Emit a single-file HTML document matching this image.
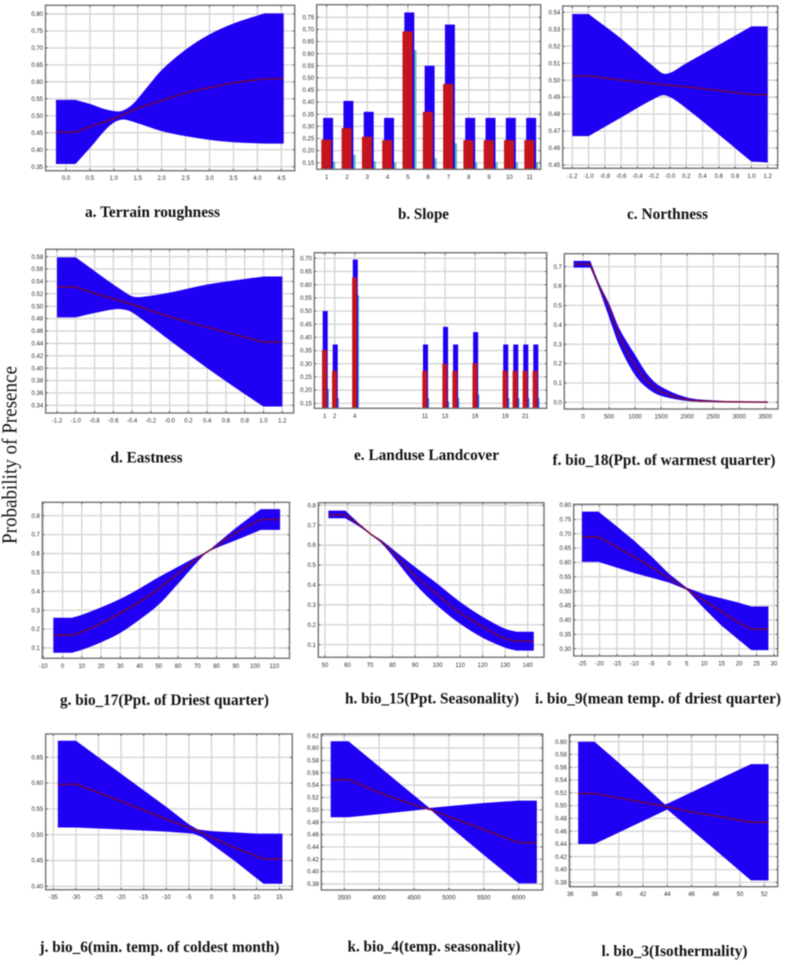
<!DOCTYPE html>
<html lang="en">
<head>
<meta charset="utf-8">
<title>Response curves: probability of presence</title>
<style>
html,body{margin:0;padding:0;background:#fff;}
#figure{display:block;width:787px;height:965px;filter:blur(0.4px);}
.cap{font-family:"Liberation Serif",serif;font-weight:bold;font-size:15.5px;fill:#111;}
.ytitle{font-family:"Liberation Serif",serif;font-size:21px;fill:#111;}
.tick{font-family:"Liberation Sans",sans-serif;font-size:6px;fill:#2a2a2a;}
</style>
</head>
<body>
<svg id="figure" xmlns="http://www.w3.org/2000/svg" width="787" height="965" viewBox="0 0 787 965">
<rect x="0" y="0" width="787" height="965" fill="#fff"/>
<g id="panels"></g>
<text class="ytitle" transform="translate(16.5,544) rotate(-90)" textLength="178" lengthAdjust="spacingAndGlyphs">Probability of Presence</text>
<text class="cap" x="85" y="217" textLength="135" lengthAdjust="spacingAndGlyphs">a. Terrain roughness</text>
<text class="cap" x="398" y="219" textLength="51" lengthAdjust="spacingAndGlyphs">b. Slope</text>
<text class="cap" x="627" y="219" textLength="81" lengthAdjust="spacingAndGlyphs">c. Northness</text>
<text class="cap" x="110.5" y="462.5" textLength="72" lengthAdjust="spacingAndGlyphs">d. Eastness</text>
<text class="cap" x="354" y="460" textLength="145" lengthAdjust="spacingAndGlyphs">e. Landuse Landcover</text>
<text class="cap" x="552.5" y="465" textLength="223" lengthAdjust="spacingAndGlyphs">f. bio_18(Ppt. of warmest quarter)</text>
<text class="cap" x="60" y="705" textLength="209" lengthAdjust="spacingAndGlyphs">g. bio_17(Ppt. of Driest quarter)</text>
<text class="cap" x="345" y="703.5" textLength="174" lengthAdjust="spacingAndGlyphs">h. bio_15(Ppt. Seasonality)</text>
<text class="cap" x="535" y="703.5" textLength="246" lengthAdjust="spacingAndGlyphs">i. bio_9(mean temp. of driest quarter)</text>
<text class="cap" x="39.5" y="952" textLength="240" lengthAdjust="spacingAndGlyphs">j. bio_6(min. temp. of coldest month)</text>
<text class="cap" x="347.5" y="951.5" textLength="173" lengthAdjust="spacingAndGlyphs">k. bio_4(temp. seasonality)</text>
<text class="cap" x="601.5" y="956" textLength="146" lengthAdjust="spacingAndGlyphs">l. bio_3(Isothermality)</text>
</svg>
<script>
// ---------- Panel a: Terrain roughness ----------
const aXTicks = ['0.0','0.5','1.0','1.5','2.0','2.5','3.0','3.5','4.0','4.5'];
const aYTicks = ['0.35','0.40','0.45','0.50','0.55','0.60','0.65','0.70','0.75','0.80'];
const aUpperX = [-0.21,0.2,0.5,0.8,1.05,1.2,1.4,1.7,2,2.5,3,3.5,4.15,4.55];
const aUpperY = [0.547,0.547,0.535,0.52,0.513,0.516,0.535,0.585,0.635,0.695,0.74,0.772,0.802,0.802];
const aLowerX = [-0.21,0.2,0.5,0.8,1.0,1.2,1.5,2,2.5,3,3.5,4.15,4.55];
const aLowerY = [0.358,0.358,0.405,0.455,0.48,0.489,0.478,0.455,0.44,0.429,0.422,0.418,0.418];
const aMeanX = [-0.21,0.2,0.5,1,1.5,2,2.5,3,3.5,4.15,4.55];
const aMeanY = [0.452,0.452,0.468,0.492,0.522,0.545,0.567,0.583,0.597,0.609,0.609];

// ---------- Panel b: Slope (bars) ----------
const bCategories = ['1','2','3','4','5','6','7','8','9','10','11'];
const bYTicks = ['0.15','0.20','0.25','0.30','0.35','0.40','0.45','0.50','0.55','0.60','0.65','0.70','0.75'];
const bUpperBars = [0.335,0.405,0.36,0.335,0.77,0.55,0.72,0.335,0.335,0.335,0.335];
const bMeanBars = [0.245,0.293,0.257,0.243,0.692,0.36,0.475,0.243,0.243,0.243,0.243];
const bLowerBars = [0.155,0.183,0.155,0.152,0.615,0.168,0.23,0.152,0.152,0.152,0.152];

// ---------- Panel c: Northness ----------
const cXTicks = ['-1.2','-1.0','-0.8','-0.6','-0.4','-0.2','-0.0','0.2','0.4','0.6','0.8','1.0','1.2'];
const cYTicks = ['0.45','0.46','0.47','0.48','0.49','0.50','0.51','0.52','0.53','0.54'];
const cUpperX = [-1.2,-1,-0.6,-0.2,-0.05,0.2,1,1.2];
const cUpperY = [0.539,0.539,0.5245,0.508,0.5037,0.51,0.5317,0.5317];
const cLowerX = [-1.2,-1,-0.6,-0.2,-0.05,0.2,1,1.2];
const cLowerY = [0.467,0.467,0.478,0.4889,0.491,0.4834,0.452,0.4515];
const cMeanX = [-1.2,-1,-0.5,0,0.5,1,1.2];
const cMeanY = [0.5025,0.5025,0.4995,0.497,0.4945,0.4915,0.4915];

// ---------- Panel d: Eastness ----------
const dXTicks = ['-1.2','-1.0','-0.8','-0.6','-0.4','-0.2','-0.0','0.2','0.4','0.6','0.8','1.0','1.2'];
const dYTicks = ['0.34','0.36','0.38','0.40','0.42','0.44','0.46','0.48','0.50','0.52','0.54','0.56','0.58'];
const dUpperX = [-1.2,-1,-0.8,-0.6,-0.5,-0.4,-0.3,0,0.4,0.8,1,1.2];
const dUpperY = [0.579,0.579,0.557,0.535,0.525,0.516,0.515,0.522,0.535,0.544,0.548,0.548];
const dLowerX = [-1.2,-1,-0.8,-0.6,-0.5,-0.4,0,0.4,0.8,1,1.2];
const dLowerY = [0.482,0.482,0.489,0.495,0.495,0.49,0.445,0.4,0.358,0.338,0.338];
const dMeanX = [-1.2,-1,-0.8,-0.4,0,0.4,0.8,1,1.2];
const dMeanY = [0.531,0.531,0.521,0.503,0.483,0.466,0.45,0.442,0.442];

// ---------- Panel e: Landuse Landcover (bars) ----------
const eCategories = [1,2,4,11,13,14,16,19,20,21,22];
const eXTicks = ['1','2','4','11','13','16','19','21'];
const eYTicks = ['0.15','0.20','0.25','0.30','0.35','0.40','0.45','0.50','0.55','0.60','0.65','0.70'];
const eUpperBars = [0.5,0.373,0.695,0.373,0.44,0.373,0.42,0.373,0.373,0.373,0.373];
const eMeanBars = [0.352,0.273,0.627,0.273,0.3,0.273,0.302,0.273,0.273,0.273,0.273];
const eLowerBars = [0.205,0.17,0.56,0.17,0.157,0.17,0.183,0.17,0.17,0.17,0.17];

// ---------- Panel f: bio_18 ----------
const fXTicks = ['0','500','1000','1500','2000','2500','3000','3500'];
const fYTicks = ['0.0','0.1','0.2','0.3','0.4','0.5','0.6','0.7'];
const fUpperX = [-180,140,300,500,700,1000,1250,1500,2000,2500,3000,3550];
const fUpperY = [0.73,0.73,0.62,0.51,0.38,0.245,0.14,0.08,0.025,0.01,0.004,0.002];
const fLowerX = [-180,140,300,500,700,1000,1250,1500,2000,2500,3000,3550];
const fLowerY = [0.695,0.695,0.59,0.44,0.29,0.14,0.07,0.033,0.007,0.002,0,0];
const fMeanX = [-180,140,300,500,700,1000,1250,1500,2000,2500,3000,3550];
const fMeanY = [0.713,0.713,0.605,0.49,0.34,0.19,0.105,0.055,0.014,0.005,0.002,0.001];

// ---------- Panel g: bio_17 ----------
const gXTicks = ['-10','0','10','20','30','40','50','60','70','80','90','100','110'];
const gYTicks = ['0.1','0.2','0.3','0.4','0.5','0.6','0.7','0.8'];
const gUpperX = [-4.8,5,10,20,30,40,50,60,70,75,80,90,103,113];
const gUpperY = [0.26,0.26,0.275,0.315,0.36,0.415,0.475,0.53,0.585,0.61,0.65,0.735,0.835,0.835];
const gLowerX = [-4.8,5,10,20,30,40,50,60,70,75,80,90,103,113];
const gLowerY = [0.075,0.075,0.09,0.13,0.18,0.25,0.33,0.44,0.555,0.605,0.63,0.67,0.725,0.725];
const gMeanX = [-4.8,5,10,20,30,40,50,60,70,80,90,103,113];
const gMeanY = [0.168,0.168,0.185,0.23,0.285,0.345,0.415,0.495,0.575,0.64,0.71,0.78,0.78];

// ---------- Panel h: bio_15 ----------
const hXTicks = ['50','60','70','80','90','100','110','120','130','140'];
const hYTicks = ['0.1','0.2','0.3','0.4','0.5','0.6','0.7','0.8'];
const hUpperX = [51.5,59,65,70,75,80,90,100,110,120,130,135,142.7];
const hUpperY = [0.773,0.773,0.71,0.66,0.625,0.58,0.49,0.405,0.315,0.24,0.18,0.165,0.165];
const hLowerX = [51.5,59,65,70,75,80,90,100,110,120,130,135,142.7];
const hLowerY = [0.735,0.735,0.695,0.655,0.61,0.545,0.405,0.295,0.205,0.135,0.085,0.07,0.07];
const hMeanX = [51.5,59,65,70,75,80,90,100,110,120,130,135,142.7];
const hMeanY = [0.752,0.752,0.705,0.658,0.617,0.565,0.445,0.35,0.26,0.19,0.13,0.118,0.118];

// ---------- Panel i: bio_9 ----------
const iXTicks = ['-25','-20','-15','-10','-5','0','5','10','15','20','25','30'];
const iYTicks = ['0.30','0.35','0.40','0.45','0.50','0.55','0.60','0.65','0.70','0.75','0.80'];
const iUpperX = [-25,-20.3,-15,-10,-5,0,5,10,15,20,23.5,28.4];
const iUpperY = [0.777,0.777,0.725,0.675,0.62,0.56,0.512,0.49,0.475,0.46,0.447,0.447];
const iLowerX = [-25,-20.3,-15,-10,-5,0,5,10,15,20,23.5,28.4];
const iLowerY = [0.602,0.602,0.582,0.563,0.547,0.53,0.505,0.44,0.38,0.33,0.295,0.295];
const iMeanX = [-25,-20.3,-15,-10,-5,0,5,10,15,20,23.5,28.4];
const iMeanY = [0.689,0.689,0.653,0.62,0.583,0.545,0.507,0.467,0.43,0.39,0.368,0.368];

// ---------- Panel j: bio_6 ----------
const jXTicks = ['-35','-30','-25','-20','-15','-10','-5','0','5','10','15'];
const jYTicks = ['0.40','0.45','0.50','0.55','0.60','0.65'];
const jUpperX = [-34,-30,-20,-10,-5,-3,0,10,15.7];
const jUpperY = [0.682,0.682,0.618,0.554,0.52,0.51,0.507,0.502,0.502];
const jLowerX = [-34,-30,-20,-10,-4,-2,0,5,11.5,15.7];
const jLowerY = [0.514,0.514,0.51,0.506,0.502,0.495,0.482,0.45,0.405,0.405];
const jMeanX = [-34,-30,-20,-10,-3,0,5,11.5,15.7];
const jMeanY = [0.597,0.598,0.565,0.53,0.507,0.495,0.475,0.453,0.453];

// ---------- Panel k: bio_4 ----------
const kXTicks = ['3500','4000','4500','5000','5500','6000'];
const kYTicks = ['0.38','0.40','0.42','0.44','0.46','0.48','0.50','0.52','0.54','0.56','0.58','0.60','0.62'];
const kUpperX = [3305,3560,4000,4500,4720,5000,5500,6000,6260];
const kUpperY = [0.611,0.611,0.57,0.5235,0.503,0.506,0.511,0.515,0.515];
const kLowerX = [3305,3560,4000,4500,4720,5000,5500,6000,6260];
const kLowerY = [0.488,0.488,0.493,0.499,0.502,0.474,0.427,0.381,0.381];
const kMeanX = [3305,3560,4000,4500,4720,5000,5500,6000,6260];
const kMeanY = [0.549,0.549,0.528,0.508,0.501,0.489,0.468,0.447,0.447];

// ---------- Panel l: bio_3 ----------
const lXTicks = ['36','38','40','42','44','46','48','50','52'];
const lYTicks = ['0.38','0.40','0.42','0.44','0.46','0.48','0.50','0.52','0.54','0.56','0.58','0.60'];
const lUpperX = [36.65,38,40,42,43.8,44,46,48,50.9,52.35];
const lUpperY = [0.6,0.6,0.567,0.533,0.502,0.503,0.521,0.539,0.565,0.565];
const lLowerX = [36.65,38,40,42,44,46,48,50.9,52.35];
const lLowerY = [0.44,0.44,0.458,0.476,0.494,0.462,0.43,0.383,0.383];
const lMeanX = [36.65,38,40,42,44,46,48,50.9,52.35];
const lMeanY = [0.519,0.519,0.512,0.505,0.498,0.49,0.484,0.474,0.474];

// ---------- Drawing ----------
const NS = 'http://www.w3.org/2000/svg';
const BLUE = '#1f00f3';
const MEAN = '#730a40';
const GRID = '#d6d6d6';
const FRAME = '#727272';
const root = document.getElementById('panels');

function make(parent, tag, props) {
  const node = document.createElementNS(NS, tag);
  for (const k in props) node.setAttribute(k, props[k]);
  parent.appendChild(node);
  return node;
}
function scale(v0, p0, v1, p1) {
  return function (v) { return p0 + (v - v0) * (p1 - p0) / (v1 - v0); };
}
// Path commands through the data points: the plateau segments at each end stay
// straight, and the stretch between them is optionally a smooth cubic.
function traceCommands(xs, ys, sx, sy, smooth) {
  const px = xs.map(sx);
  const py = ys.map(sy);
  const n = px.length;
  let out = '';
  function slope(i) {
    if (i <= 1) return (py[i + 1] - py[i]) / (px[i + 1] - px[i]);
    if (i >= n - 2) return (py[i] - py[i - 1]) / (px[i] - px[i - 1]);
    return (py[i + 1] - py[i - 1]) / (px[i + 1] - px[i - 1]);
  }
  for (let i = 1; i < n; i++) {
    const straight = !smooth || i === 1 || i === n - 1;
    if (straight) {
      out += 'L' + px[i].toFixed(2) + ' ' + py[i].toFixed(2);
    } else {
      const dx = (px[i] - px[i - 1]) / 3;
      const c1x = px[i - 1] + dx;
      const c1y = py[i - 1] + slope(i - 1) * dx;
      const c2x = px[i] - dx;
      const c2y = py[i] - slope(i) * dx;
      out += 'C' + c1x.toFixed(2) + ' ' + c1y.toFixed(2) + ' ' + c2x.toFixed(2) + ' ' + c2y.toFixed(2) + ' ' + px[i].toFixed(2) + ' ' + py[i].toFixed(2);
    }
  }
  return {start: px[0].toFixed(2) + ' ' + py[0].toFixed(2), body: out};
}

function drawAxes(g, box, sx, sy, xTicks, yTicks, gridX) {
  const frameBg = make(g, 'rect', {x: box.x0, y: box.y0, width: box.x1 - box.x0, height: box.y1 - box.y0, fill: '#fff'});
  
  
  gridX.forEach(function (t) {
    const px = sx(parseFloat(t));
    const gl = make(g, 'line', {x1: px, x2: px, y1: box.y0, y2: box.y1, stroke: GRID, 'stroke-width': 1.4});
    
    
  });
  yTicks.forEach(function (t) {
    const py = sy(parseFloat(t));
    const gl = make(g, 'line', {x1: box.x0, x2: box.x1, y1: py, y2: py, stroke: GRID, 'stroke-width': 1.4});
    
    
    const lab = make(g, 'text', {x: box.x0 - 2.5, y: py + 2.1, 'text-anchor': 'end', class: 'tick'});
    lab.textContent = t;
    
    
  });
  xTicks.forEach(function (t) {
    const lab = make(g, 'text', {x: sx(parseFloat(t)), y: box.y1 + 9.5, 'text-anchor': 'middle', class: 'tick'});
    lab.textContent = t;
    
    
  });
}

function drawTicksAndFrame(g, box, sx, sy, gridX, yTicks) {
  gridX.forEach(function (t) {
    const px = sx(parseFloat(t));
    const d = 'M' + px + ' ' + box.y0 + 'v2M' + px + ' ' + box.y1 + 'v-2';
    const m = make(g, 'path', {d: d, stroke: '#444', 'stroke-width': 0.8, fill: 'none'});
    
    
  });
  yTicks.forEach(function (t) {
    const py = sy(parseFloat(t));
    const d = 'M' + box.x0 + ' ' + py + 'h2M' + box.x1 + ' ' + py + 'h-2';
    const m = make(g, 'path', {d: d, stroke: '#444', 'stroke-width': 0.8, fill: 'none'});
    
    
  });
  const fr = make(g, 'rect', {x: box.x0, y: box.y0, width: box.x1 - box.x0, height: box.y1 - box.y0, fill: 'none', stroke: FRAME, 'stroke-width': 1.4});
  
  
}

function curvePanel(id, smooth, box, xCal, yCal, xTicks, yTicks, ux, uy, lx, ly, mx, my) {
  const g = make(root, 'g', {});
  
  
  const sx = scale(xCal[0], xCal[1], xCal[2], xCal[3]);
  const sy = scale(yCal[0], yCal[1], yCal[2], yCal[3]);
  drawAxes(g, box, sx, sy, xTicks, yTicks, xTicks);
  const up = traceCommands(ux, uy, sx, sy, smooth);
  const low = traceCommands(lx.slice().reverse(), ly.slice().reverse(), sx, sy, smooth);
  const band = make(g, 'path', {d: 'M' + up.start + up.body + 'L' + low.start + low.body + 'Z', fill: BLUE});
  
  
  const mid = traceCommands(mx, my, sx, sy, smooth);
  const line = make(g, 'path', {d: 'M' + mid.start + mid.body, fill: 'none', stroke: MEAN, 'stroke-width': 1.5, 'stroke-linejoin': 'round'});
  
  
  drawTicksAndFrame(g, box, sx, sy, xTicks, yTicks);
}

function barPanel(id, box, xCal, yCal, cats, xTicks, yTicks, upper, mean, lower, lowColor, widths) {
  const g = make(root, 'g', {});
  
  
  const sx = scale(xCal[0], xCal[1], xCal[2], xCal[3]);
  const sy = scale(yCal[0], yCal[1], yCal[2], yCal[3]);
  drawAxes(g, box, sx, sy, xTicks, yTicks, xTicks);
  cats.forEach(function (c, i) {
    const cat = parseFloat(c);
    function bar(offset, w, v, color) {
      const left = sx(cat + offset - w / 2);
      const right = sx(cat + offset + w / 2);
      const top = sy(v);
      return make(g, 'rect', {x: left, y: top, width: right - left, height: box.y1 - top, fill: color});
    }
    const lo = bar(widths.lowOff, widths.lowW, lower[i], lowColor);
    
    
    const hi = bar(widths.blueOff, widths.blueW, upper[i], BLUE);
    
    
    const md = bar(widths.redOff, widths.redW, mean[i], '#c4141d');
    
    
  });
  drawTicksAndFrame(g, box, sx, sy, xTicks, yTicks);
}

curvePanel('a-terrain-roughness', true, {x0:45.5,x1:294.7,y0:5.3,y1:170.7}, [0,66,4.5,281.3], [0.80,14,0.35,166.7], aXTicks, aYTicks, aUpperX, aUpperY, aLowerX, aLowerY, aMeanX, aMeanY);
barPanel('b-slope', {x0:316.7,x1:540.7,y0:4.7,y1:169.3}, [1,326.7,11,529.7], [0.75,17.3,0.15,162.7], bCategories, bCategories, bYTicks, bUpperBars, bMeanBars, bLowerBars, '#5fb8bb', {blueOff:0.07,blueW:0.49,redOff:-0.02,redW:0.49,lowOff:0.35,lowW:0.14});
curvePanel('c-northness', true, {x0:562.7,x1:777.7,y0:6,y1:168.3}, [-1.2,572.3,1.2,767.7], [0.54,12.3,0.45,165], cXTicks, cYTicks, cUpperX, cUpperY, cLowerX, cLowerY, cMeanX, cMeanY);
curvePanel('d-eastness', true, {x0:45.7,x1:293.7,y0:249.3,y1:413}, [-1.2,57,1.2,282.3], [0.58,256.7,0.34,405.3], dXTicks, dYTicks, dUpperX, dUpperY, dLowerX, dLowerY, dMeanX, dMeanY);
barPanel('e-landuse-landcover', {x0:314.3,x1:546.7,y0:252.7,y1:408.3}, [1,324.7,21,525.3], [0.70,258.3,0.15,403.3], eCategories, eXTicks, eYTicks, eUpperBars, eMeanBars, eLowerBars, '#3d86d6', {blueOff:0.05,blueW:0.5,redOff:-0.03,redW:0.47,lowOff:0.34,lowW:0.14});
curvePanel('f-bio-18', true, {x0:564.3,x1:778,y0:253.7,y1:409}, [0,583,3500,765.3], [0.7,266.7,0,402.3], fXTicks, fYTicks, fUpperX, fUpperY, fLowerX, fLowerY, fMeanX, fMeanY);
curvePanel('g-bio-17', true, {x0:42.3,x1:289.5,y0:502.3,y1:658.3}, [-10,43.3,110,274.3], [0.8,515.7,0.1,648], gXTicks, gYTicks, gUpperX, gUpperY, gLowerX, gLowerY, gMeanX, gMeanY);
curvePanel('h-bio-15', true, {x0:318.3,x1:544,y0:502.7,y1:657.3}, [50,325,140,527.7], [0.8,505.3,0.1,644.7], hXTicks, hYTicks, hUpperX, hUpperY, hLowerX, hLowerY, hMeanX, hMeanY);
curvePanel('i-bio-9', false, {x0:573.7,x1:777.7,y0:504.3,y1:656}, [-25,582,30,774], [0.80,505,0.30,648.7], iXTicks, iYTicks, iUpperX, iUpperY, iLowerX, iLowerY, iMeanX, iMeanY);
curvePanel('j-bio-6', false, {x0:45.7,x1:292.3,y0:734,y1:889.7}, [-35,53.3,15,279.3], [0.65,757.3,0.40,886.3], jXTicks, jYTicks, jUpperX, jUpperY, jLowerX, jLowerY, jMeanX, jMeanY);
curvePanel('k-bio-4', false, {x0:321.3,x1:542.7,y0:734,y1:890}, [3500,344.3,6000,518.7], [0.62,735.7,0.38,884], kXTicks, kYTicks, kUpperX, kUpperY, kLowerX, kLowerY, kMeanX, kMeanY);
curvePanel('l-bio-3', false, {x0:569.3,x1:777.7,y0:734.7,y1:886.7}, [36,570.3,52,764.3], [0.60,741.7,0.38,882.3], lXTicks, lYTicks, lUpperX, lUpperY, lLowerX, lLowerY, lMeanX, lMeanY);
</script>
</body>
</html>
